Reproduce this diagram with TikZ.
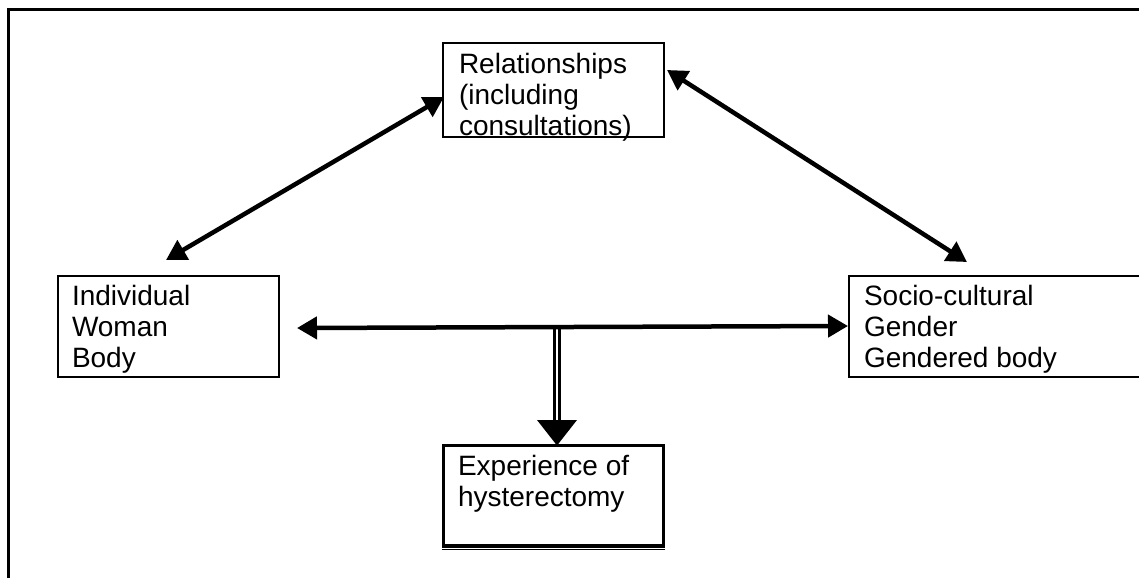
\documentclass[tikz,border=0pt]{standalone}
\usepackage{fontspec}
\setmainfont{Liberation Sans}
\usetikzlibrary{arrows.meta,calc}
\begin{document}
\begin{tikzpicture}[x=1pt,y=-1pt,
  box/.style={draw, line width=2.5pt, inner sep=0pt, outer sep=0pt, anchor=north west},
  txt/.style={anchor=north west, inner sep=0pt, outer sep=0pt, align=left,
              font=\fontsize{28}{31}\selectfont},
  link/.style={line width=4.5pt,
               {Triangle[length=20pt,width=22pt]}-{Triangle[length=20pt,width=22pt]}},
  dbl/.style={draw, line width=2.5pt, double=white, double distance=2.4pt},
]
\useasboundingbox (0,0) rectangle (1139,578);

% outer frame, top and left edges
\draw[line width=3pt] (8,578) -- (8,10) -- (1139,10);

% boxes
\node[box, minimum width=221pt, minimum height=94pt] (rel) at (443,43) {};
\node[box, minimum width=221pt, minimum height=101pt] (ind) at (58,276) {};
\node[box, draw=none, minimum width=290pt, minimum height=101pt] (soc) at (849,276) {};
\draw[line width=2.5pt] (soc.north east) -- (soc.north west) -- (soc.south west) -- (soc.south east);
\node[box, line width=3.4pt, minimum width=220pt, minimum height=100.5pt] (exp) at (443.5,445.5) {};
\draw[line width=1.4pt] ($(exp.south west)+(-1.7,3.3)$) -- ($(exp.south east)+(1.7,3.3)$);

% box texts
\node[txt] (reltext) at (459,53) {Relationships\\(including\\consultations)};
\node[txt] (indtext) at (72,285) {Individual\\Woman\\Body};
\node[txt] (soctext) at (864,285) {Socio-cultural\\Gender\\Gendered body};
\node[txt] (exptext) at (458,455) {Experience of\\hysterectomy};

% arrow end points
\coordinate (l1) at (166,260);
\coordinate (l2) at (444,97);
\coordinate (r1) at (667,70);
\coordinate (r2) at (967,262);
\coordinate (h1) at (297,328);
\coordinate (h2) at (848,326);
\coordinate (j) at (557,327);
\coordinate (jb) at (557,421);

% double shaft down to the experience box
\draw[dbl] (j) -- (jb);
\fill ($(jb)+(-20,-1)$) -- ($(jb)+(20,-1)$) -- (exp.north -| jb) -- cycle;

% two-way links
\draw[link] (l1) -- (l2);
\draw[link] (r1) -- (r2);
\draw[link] (h1) -- (h2);
\end{tikzpicture}
\end{document}
